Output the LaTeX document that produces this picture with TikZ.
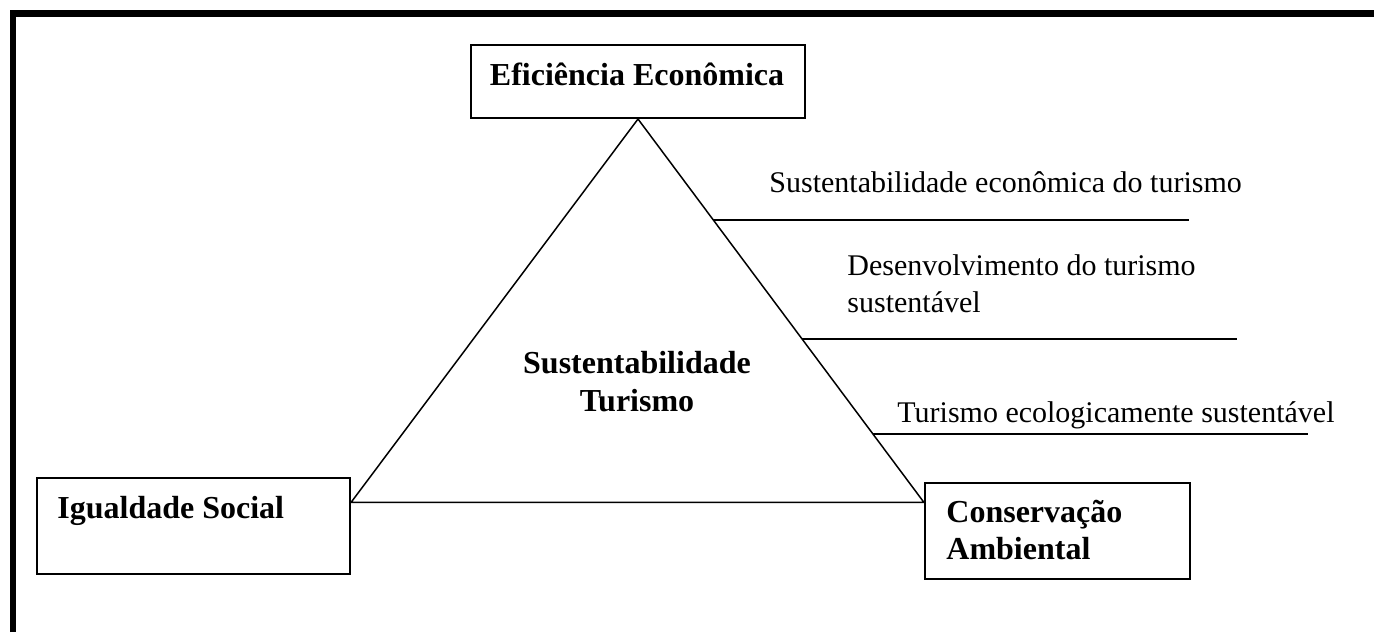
\documentclass[tikz,border=0pt]{standalone}
\usepackage{fontspec}
\setmainfont{Liberation Serif}
\usetikzlibrary{calc}
\begin{document}
\begin{tikzpicture}[x=0.5pt,y=-0.5pt,
  box/.style={draw,line width=1pt,rectangle,inner sep=0pt,anchor=north west},
  lbl/.style={font=\fontsize{16}{18.5}\selectfont\bfseries,inner sep=0pt,anchor=base west},
  txt/.style={font=\fontsize{15}{18.5}\selectfont,inner sep=0pt,anchor=base west},
  tri/.style={line width=0.75pt},
  rulel/.style={line width=1pt},
  frame/.style={line width=3.2pt,line join=miter}]
\useasboundingbox (0,0) rectangle (1374,632);
% outer frame (top and left only)
\coordinate (f1) at (13,632);
\coordinate (f2) at (13,13.3);
\coordinate (f3) at (1374,13.3);
\draw[frame] (f1) -- (f2) -- (f3);
% boxes
\node[box,minimum width=167pt,minimum height=36.5pt] (ee) at (470,44) {};
\node[box,minimum width=156.5pt,minimum height=48pt] (is) at (36,477) {};
\node[box,minimum width=132.5pt,minimum height=48pt] (ca) at (924,482) {};
% box labels
\node[lbl,anchor=base] (eet) at (637,85) {Eficiência Econômica};
\node[lbl] (ist) at (57,518) {Igualdade Social};
\node[lbl] (cat1) at (946,522) {Conservação};
\node[lbl] (cat2) at (946,559) {Ambiental};
% centre label
\node[lbl,anchor=base] (st1) at (637,373) {Sustentabilidade};
\node[lbl,anchor=base] (st2) at (637,411) {Turismo};
% triangle
\coordinate (A) at (ee.south);
\coordinate (B) at ($(is.north east)!0.26!(is.south east)$);
\coordinate (C) at (B -| ca.west);
\draw[tri] (A) -- (B) -- (C) -- cycle;
% side texts
\node[txt] (t1) at (769,192) {Sustentabilidade econômica do turismo};
\node[txt] (t2a) at (847,275) {Desenvolvimento do turismo};
\node[txt] (t2b) at (847,312) {sustentável};
\node[txt] (t3) at (897,422) {Turismo ecologicamente sustentável};
% rules
\coordinate (r1) at ($(A)!0.263!(C)$);
\coordinate (r2) at ($(A)!0.573!(C)$);
\coordinate (r3) at ($(A)!0.822!(C)$);
\coordinate (e1) at (1189,0);
\coordinate (e2) at (1237,0);
\coordinate (e3) at (1308,0);
\draw[rulel] (r1) -- (r1 -| e1);
\draw[rulel] (r2) -- (r2 -| e2);
\draw[rulel] (r3) -- (r3 -| e3);
\end{tikzpicture}
\end{document}
